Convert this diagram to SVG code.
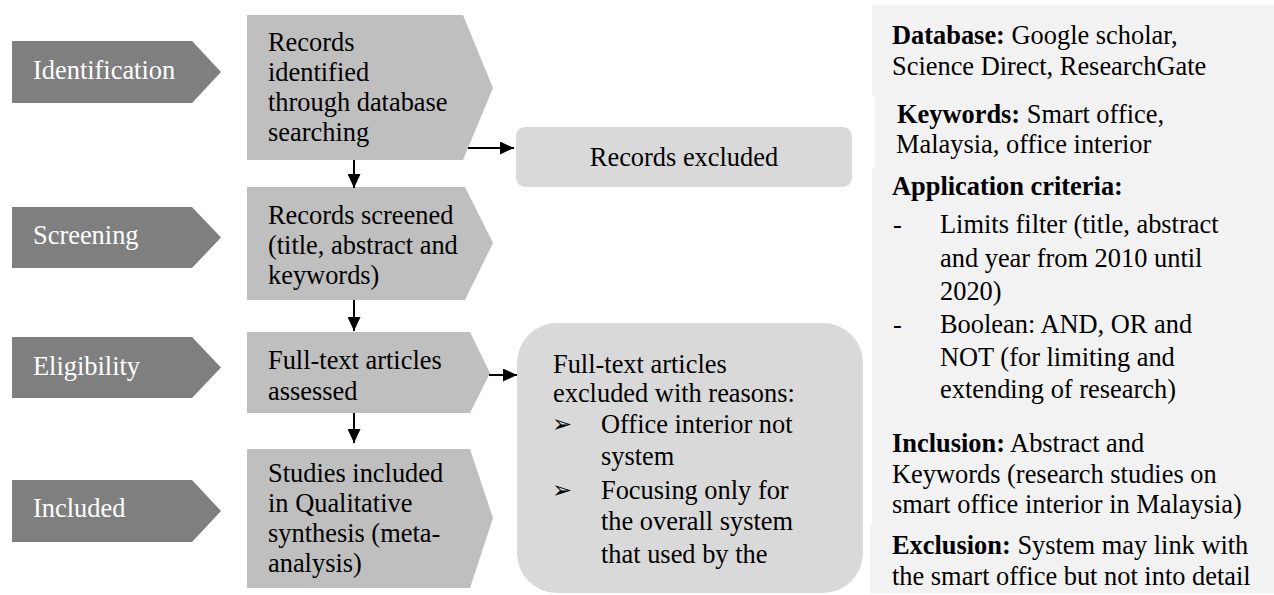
<svg xmlns="http://www.w3.org/2000/svg" width="1274" height="595" viewBox="0 0 1274 595">
  <style>
    text { font-family: "Liberation Serif", "Times New Roman", serif; font-size: 26.4px; fill: #000; }
    .stage { fill: #7f7f7f; }
    .stage-t { fill: #ffffff; }
    .step { fill: #bfbfbf; }
    .excl { fill: #d9d9d9; }
    .panel { fill: #f2f2f2; }
    .b { font-weight: bold; }
    .bullet { font-family: "DejaVu Sans", sans-serif; font-size: 24px; }
    .conn { stroke: #000; stroke-width: 2; fill: none; marker-end: url(#arrow); }
  </style>
  <defs>
    <marker id="arrow" viewBox="0 0 14 13" refX="14" refY="6.5" markerWidth="14" markerHeight="13" markerUnits="userSpaceOnUse" orient="auto">
      <path d="M0,0 L14,6.5 L0,13 z" fill="#000"/>
    </marker>
  </defs>

  <!-- Stage chevrons -->
  <g id="stage-identification">
    <polygon class="stage" points="12,41 192,41 221,72 192,103 12,103"/>
    <text class="stage-t" x="33" y="78.5">Identification</text>
  </g>
  <g id="stage-screening">
    <polygon class="stage" points="12,207 192,207 221,237.5 192,268 12,268"/>
    <text class="stage-t" x="33" y="243.5">Screening</text>
  </g>
  <g id="stage-eligibility">
    <polygon class="stage" points="12,337 192,337 221,367.5 192,398 12,398"/>
    <text class="stage-t" x="33" y="375">Eligibility</text>
  </g>
  <g id="stage-included">
    <polygon class="stage" points="12,480 192,480 221,511 192,542 12,542"/>
    <text class="stage-t" x="33" y="517">Included</text>
  </g>

  <!-- Step boxes -->
  <g id="step-identified">
    <polygon class="step" points="247,15 463,15 493,88 463,160 247,160"/>
    <text x="268" y="51">Records</text>
    <text x="268" y="81">identified</text>
    <text x="268" y="111">through database</text>
    <text x="268" y="141">searching</text>
  </g>
  <g id="step-screened">
    <polygon class="step" points="247,187 465,187 493,243 465,300 247,300"/>
    <text x="268" y="224">Records screened</text>
    <text x="268" y="254">(title, abstract and</text>
    <text x="268" y="284">keywords)</text>
  </g>
  <g id="step-assessed">
    <polygon class="step" points="247,332 470,332 490,373 470,413 247,413"/>
    <text x="268" y="369">Full-text articles</text>
    <text x="268" y="400">assessed</text>
  </g>
  <g id="step-included">
    <polygon class="step" points="247,449 470,449 493,518 470,588 247,588"/>
    <text x="268" y="482">Studies included</text>
    <text x="268" y="512">in Qualitative</text>
    <text x="268" y="542">synthesis (meta-</text>
    <text x="268" y="572">analysis)</text>
  </g>

  <!-- Exclusion boxes -->
  <g id="records-excluded">
    <rect class="excl" x="516" y="127" width="336" height="60" rx="9" ry="9"/>
    <text x="684" y="166" text-anchor="middle">Records excluded</text>
  </g>
  <g id="fulltext-excluded">
    <rect class="excl" x="517" y="323" width="346" height="270" rx="40" ry="40"/>
    <text x="553" y="373">Full-text articles</text>
    <text x="553" y="402">excluded with reasons:</text>
    <text class="bullet" x="552" y="432">➢</text>
    <text x="601" y="433">Office interior not</text>
    <text x="601" y="465">system</text>
    <text class="bullet" x="552" y="498">➢</text>
    <text x="601" y="499">Focusing only for</text>
    <text x="601" y="530">the overall system</text>
    <text x="601" y="563">that used by the</text>
  </g>

  <!-- Right information panel -->
  <g id="info-database">
    <rect class="panel" x="872" y="5" width="402" height="91"/>
    <text x="892" y="44"><tspan class="b">Database:</tspan> Google scholar,</text>
    <text x="892" y="75">Science Direct, ResearchGate</text>
  </g>
  <g id="info-keywords">
    <rect class="panel" x="875" y="96" width="399" height="72"/>
    <text x="897" y="123"><tspan class="b">Keywords:</tspan> Smart office,</text>
    <text x="896" y="153">Malaysia, office interior</text>
  </g>
  <g id="info-application">
    <rect class="panel" x="872" y="168" width="402" height="252"/>
    <text class="b" x="892" y="195">Application criteria:</text>
    <text x="893" y="233">-</text>
    <text x="940" y="233">Limits filter (title, abstract</text>
    <text x="940" y="267">and year from 2010 until</text>
    <text x="940" y="300">2020)</text>
    <text x="893" y="333">-</text>
    <text x="940" y="333">Boolean: AND, OR and</text>
    <text x="940" y="366">NOT (for limiting and</text>
    <text x="940" y="398">extending of research)</text>
  </g>
  <g id="info-inclusion">
    <rect class="panel" x="872" y="420" width="402" height="106"/>
    <text x="892" y="452"><tspan class="b">Inclusion:</tspan> Abstract and</text>
    <text x="892" y="483">Keywords (research studies on</text>
    <text x="892" y="513">smart office interior in Malaysia)</text>
  </g>
  <g id="info-exclusion">
    <rect class="panel" x="870" y="526" width="404" height="67"/>
    <text x="892" y="554"><tspan class="b">Exclusion:</tspan> System may link with</text>
    <text x="892" y="585">the smart office but not into detail</text>
  </g>

  <!-- Connectors -->
  <g id="connectors">
    <line class="conn" x1="354" y1="160" x2="354" y2="188"/>
    <line class="conn" x1="354" y1="300" x2="354" y2="331"/>
    <line class="conn" x1="354" y1="413" x2="354" y2="443"/>
    <line class="conn" x1="468" y1="148" x2="514" y2="148"/>
    <line class="conn" x1="489" y1="375" x2="517" y2="375"/>
  </g>
</svg>
